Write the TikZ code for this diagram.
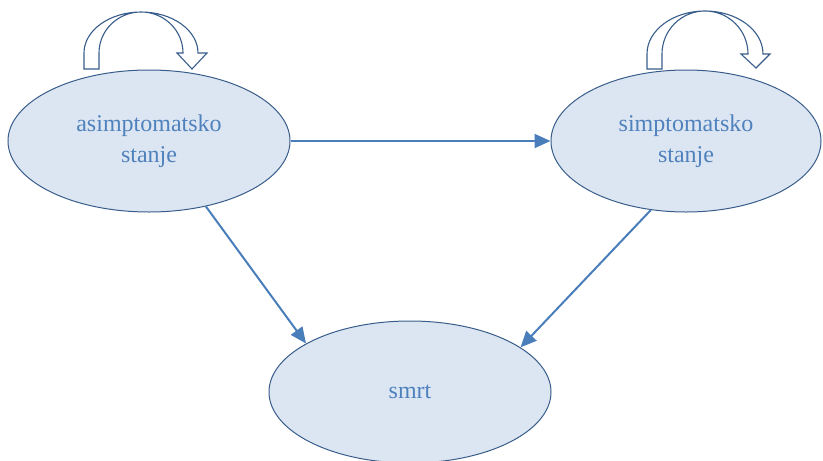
\documentclass[tikz,border=0pt]{standalone}
\usepackage{fontspec}
\setmainfont{Liberation Serif}
\usetikzlibrary{shapes.geometric,arrows.meta}
\definecolor{ellfill}{HTML}{DCE6F2}
\definecolor{ellline}{HTML}{385D8A}
\definecolor{txtblue}{HTML}{4F81BD}
\definecolor{conblue}{HTML}{4A7EBB}
\tikzset{
  state/.style={ellipse, draw=ellline, fill=ellfill, line width=1pt, inner sep=0pt,
    minimum height=142pt, text=txtblue, align=center,
    font=\fontsize{24}{31}\selectfont},
  conn/.style={draw=conblue, line width=2pt, -{Triangle[length=16pt,width=14pt]}},
  loopar/.style={draw=ellline, fill=white, line width=1.1pt, line join=miter}
}
\begin{document}
\begin{tikzpicture}[x=1pt,y=1pt]
\useasboundingbox (0,0) rectangle (823,-461);
\node[state, minimum width=282pt] (A) at (149,-141) {asimptomatsko\\stanje};
\node[state, minimum width=270pt] (B) at (686,-141) {simptomatsko\\stanje};
\node[state, minimum width=282pt] (C) at (410,-392) {smrt};
\draw[conn] (A.east) -- (B.west);
\draw[conn] (A.-49.5) -- (C.155.8);
\draw[conn] (B.243.8) -- (C.22.6);
% self-loop block arrows
\draw[loopar] (84,-69) -- (84,-53) arc[start angle=180,end angle=0,x radius=57,y radius=41]
  -- (207,-53) -- (192,-69) -- (177,-53) -- (183,-53)
  arc[start angle=0,end angle=180,x radius=42,y radius=41] -- (99,-69) -- cycle;
\draw[loopar] (647,-69) -- (647,-54) arc[start angle=180,end angle=0,x radius=58,y radius=43]
  -- (770,-54) -- (756,-68) -- (741,-54) -- (748,-54)
  arc[start angle=0,end angle=180,x radius=43,y radius=43] -- (662,-69) -- cycle;
\end{tikzpicture}
\end{document}
